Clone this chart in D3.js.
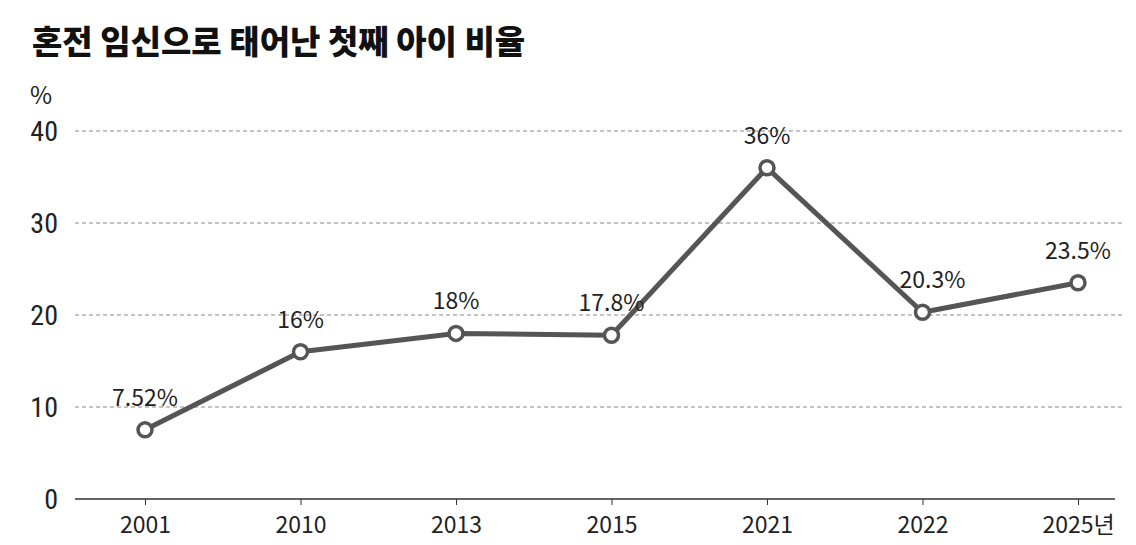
<!DOCTYPE html>
<html><head><meta charset="utf-8">
<script src="https://cdn.jsdelivr.net/npm/d3@7"></script>
<style>body{margin:0;background:#fff}svg{font-family:"Noto Sans CJK KR","Liberation Sans",sans-serif}</style>
</head><body><svg width="1136" height="545"></svg>
<script>
const years = ['2001', '2010', '2013', '2015', '2021', '2022', '2025년']
const values = [7.52, 16, 18, 17.8, 36, 20.3, 23.5]
const labels = ['7.52%', '16%', '18%', '17.8%', '36%', '20.3%', '23.5%']
const yTicks = [0, 10, 20, 30, 40]

const svg = d3.select('svg')
const x = d3.scalePoint().domain(years).range([145, 1078])
const y = d3.scaleLinear().domain([0, 40]).range([499, 131])

svg.append('text').attr('x', 32).attr('y', 54)
  .attr('font-size', 33).attr('font-weight', 900).attr('fill', '#111')
  .text('혼전 임신으로 태어난 첫째 아이 비율')
svg.append('text').attr('x', 30).attr('y', 104).attr('font-size', 24).attr('fill', '#222').text('%')

// grid
svg.selectAll('.grid').data(yTicks.filter(d => d > 0)).enter().append('line')
  .attr('x1', 75).attr('x2', 1125).attr('y1', d => y(d)).attr('y2', d => y(d))
  .attr('stroke', '#888').attr('stroke-width', 1.2).attr('stroke-dasharray', '4,3')

svg.selectAll('.ylab').data(yTicks).enter().append('text')
  .attr('x', 58).attr('y', d => y(d) + 10).attr('text-anchor', 'end')
  .attr('font-size', 28).attr('fill', '#222')
  .attr('font-family', 'Roboto Condensed, Liberation Sans Narrow, Roboto, sans-serif')
  .text(d => d)

// x axis
const xAxis = svg.append('g').attr('transform', 'translate(0,499)')
  .call(d3.axisBottom(x).tickSize(6).tickPadding(12))
xAxis.select('.domain').attr('d', 'M75,0H1115').attr('stroke', '#333').attr('stroke-width', 1.5)
xAxis.selectAll('.tick line').attr('stroke', '#333')
xAxis.selectAll('text').attr('font-size', 23).attr('fill', '#222').attr('font-family', 'Noto Sans CJK KR, sans-serif')

const line = d3.line().x((d, i) => x(years[i])).y(d => y(d))
svg.append('path').datum(values).attr('d', line)
  .attr('fill', 'none').attr('stroke', '#555').attr('stroke-width', 5).attr('stroke-linejoin', 'round')

svg.selectAll('.dot').data(values).enter().append('circle')
  .attr('cx', (d, i) => x(years[i])).attr('cy', d => y(d)).attr('r', 7)
  .attr('fill', '#fff').attr('stroke', '#555').attr('stroke-width', 3.5)

svg.selectAll('.vlab').data(values).enter().append('text')
  .attr('x', (d, i) => x(years[i]) + (i === 5 ? 10 : 0)).attr('y', d => y(d) - 24)
  .attr('text-anchor', 'middle').attr('font-size', 23).attr('fill', '#222')
  .text((d, i) => labels[i])
</script></body></html>
